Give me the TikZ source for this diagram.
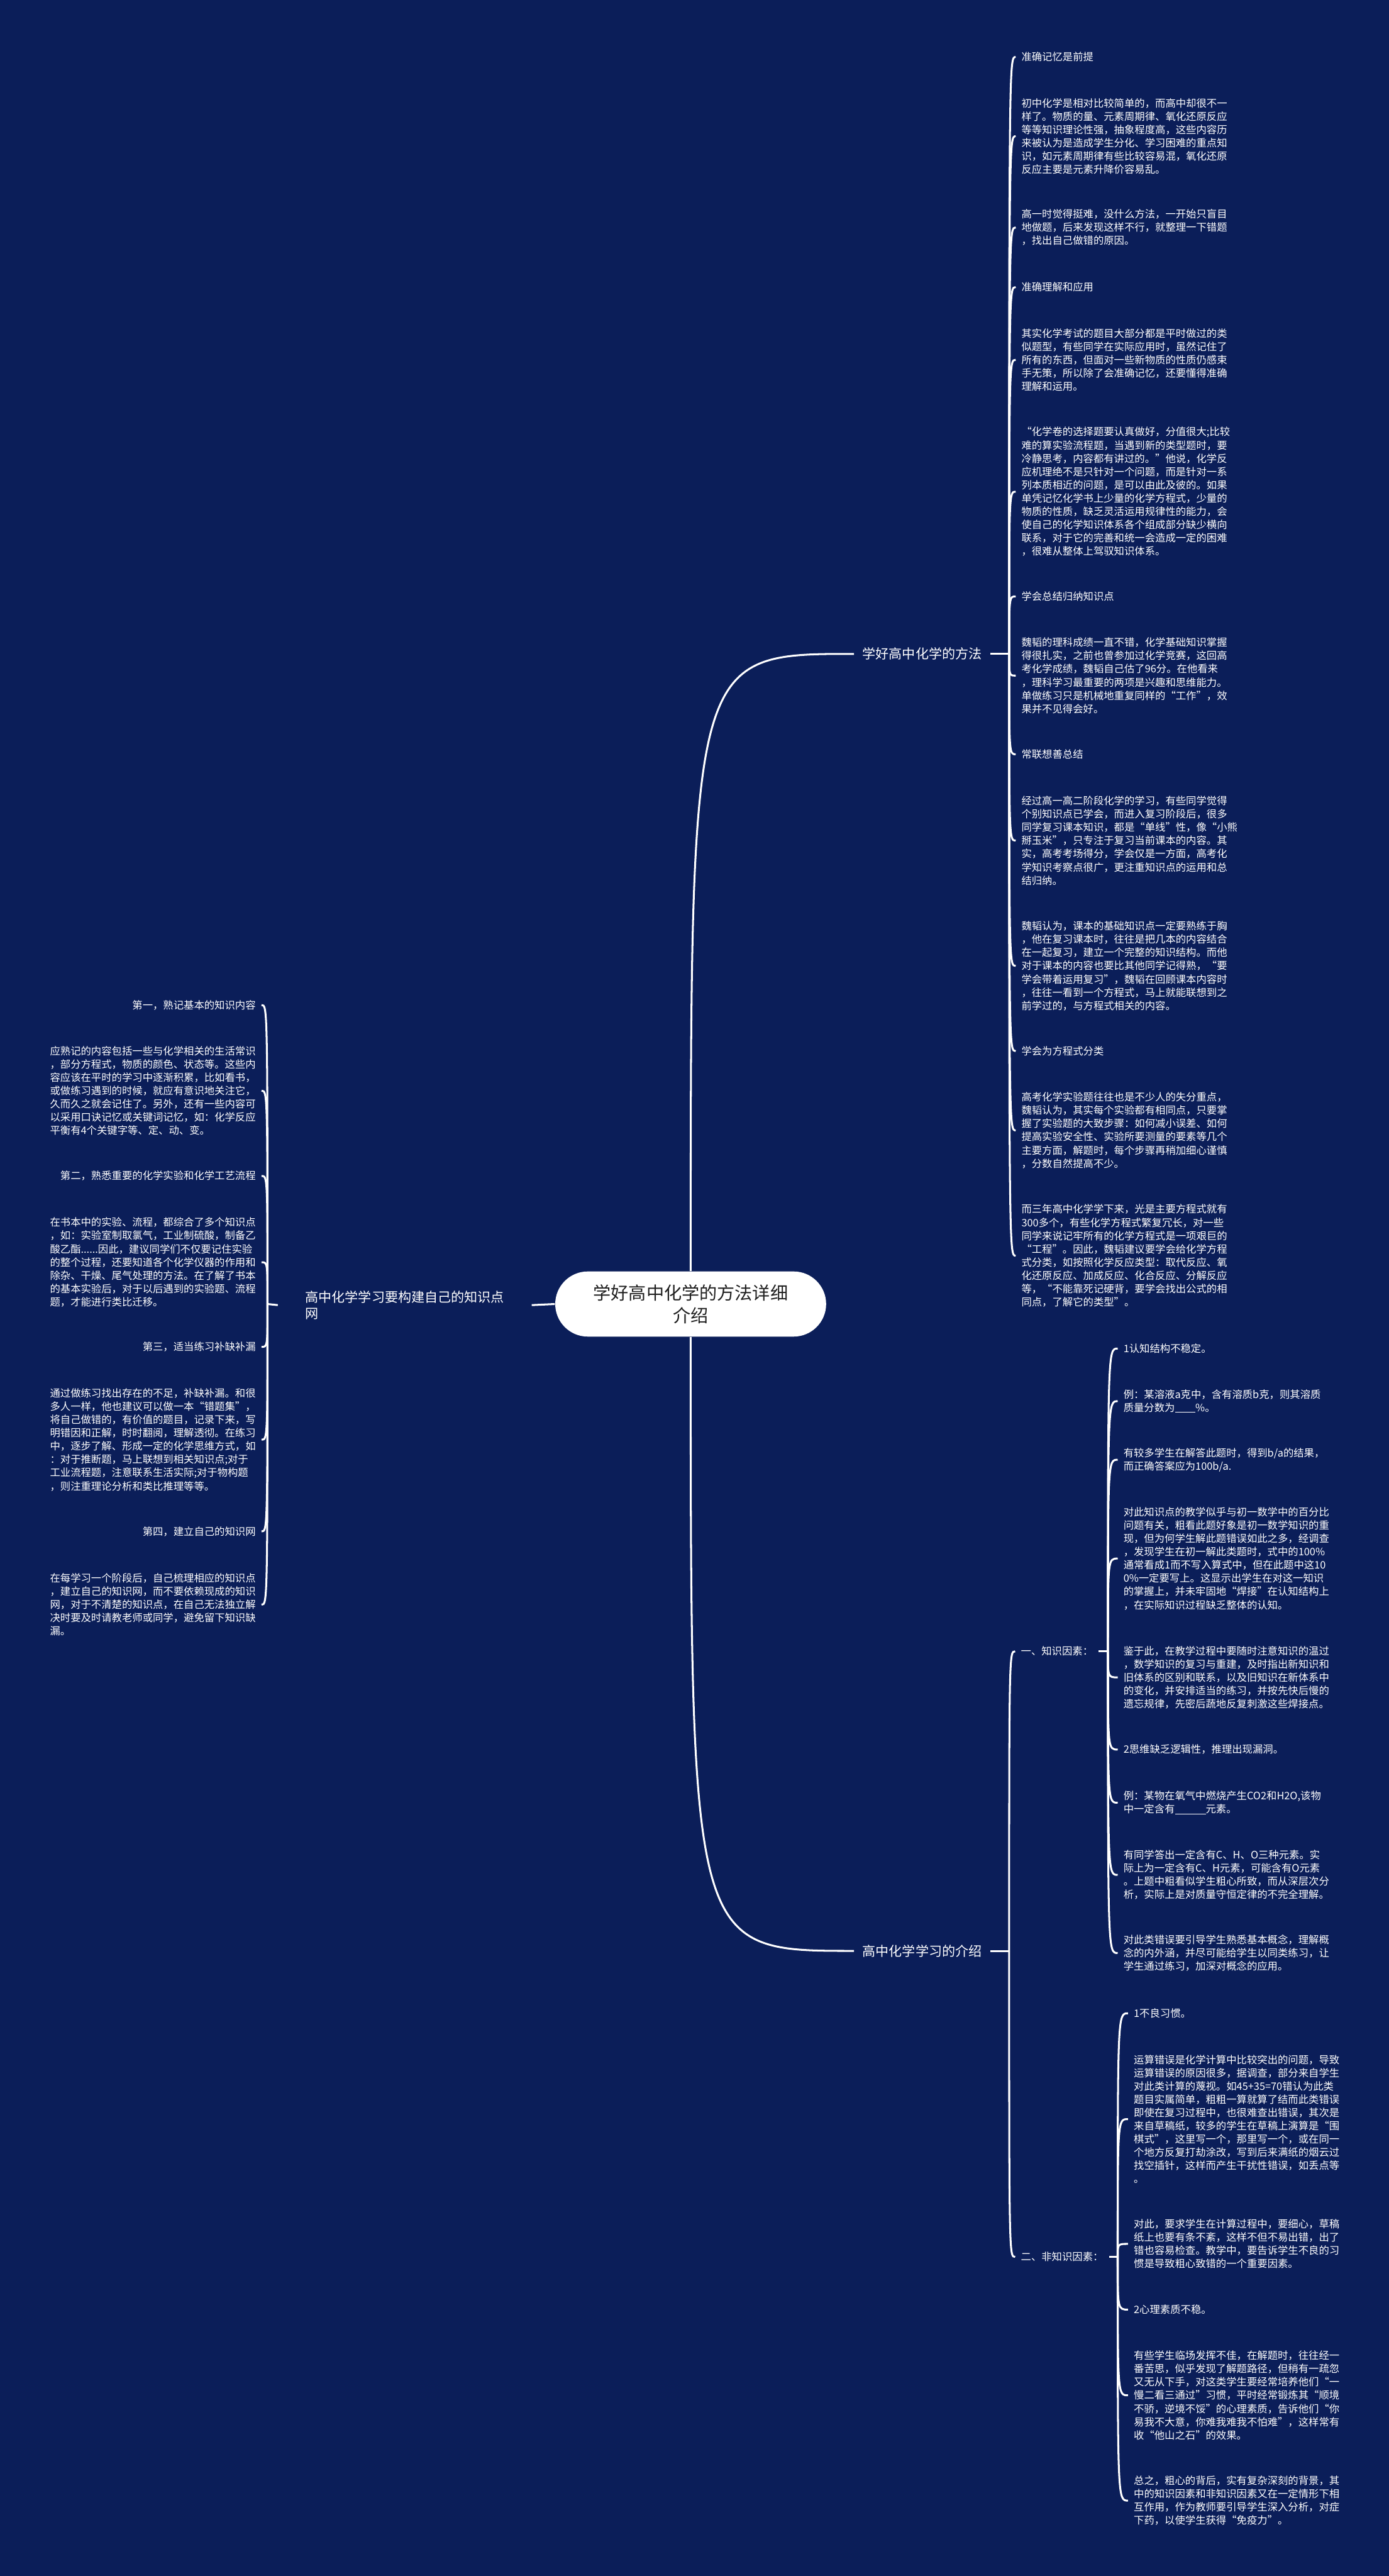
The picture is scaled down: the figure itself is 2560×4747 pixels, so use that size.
\documentclass[tikz,border=0pt]{standalone}
\usepackage{fontspec}
\setmainfont{Noto Sans CJK SC}
\definecolor{bgblue}{RGB}{11,30,89}
\newcommand{\blank}[1]{\rule[-0.12em]{#1}{0.06em}}
\begin{document}
\begin{tikzpicture}[x=0.01cm,y=-0.01cm,
    every node/.style={text=white,inner ysep=0pt},
    leaf/.style={align=left,inner xsep=0.1cm,font=\fontsize{5.39pt}{6.95pt}\selectfont},
    rleaf/.style={leaf,anchor=west},
    lleaf/.style={leaf,anchor=east},
    branch/.style={anchor=west,inner xsep=0.15cm,font=\fontsize{6.95pt}{8.5pt}\selectfont},
    hub/.style={fill=white,text=black!88,rounded corners=0.6cm,minimum width=4.99cm,
      minimum height=1.2cm,align=center,font=\fontsize{9.27pt}{11.9pt}\selectfont},
    link/.style={draw=white,line width=1pt}]
  \fill[bgblue] (0,0) rectangle (2560,4747);
  \useasboundingbox (0,0) rectangle (2560,4747);

  \node[hub] (hub) at (1273,2403) {学好高中化学的方法详细\\介绍};
  \node[branch] (ma) at (1574,1205) {学好高中化学的方法};
  \node[branch] (mb) at (1574,3595) {高中化学学习的介绍};
  \node[branch,align=left,inner xsep=0.5cm] (lmain) at (512,2405) {高中化学学习要构建自己的知识点\\网};

  \coordinate (ra) at (1860,1205);
  \coordinate (rb) at (1860,3595);
  \coordinate (rk) at (2042,3043);
  \coordinate (rn) at (2060,4159);
  \coordinate (rl) at (493,2403);

  \node[rleaf] (a1) at (1872,105) {准确记忆是前提};
  \node[rleaf] (a2) at (1872,251) {初中化学是相对比较简单的，而高中却很不一\\样了。物质的量、元素周期律、氧化还原反应\\等等知识理论性强，抽象程度高，这些内容历\\来被认为是造成学生分化、学习困难的重点知\\识，如元素周期律有些比较容易混，氧化还原\\反应主要是元素升降价容易乱。};
  \node[rleaf] (a3) at (1872,419) {高一时觉得挺难，没什么方法，一开始只盲目\\地做题，后来发现这样不行，就整理一下错题\\，找出自己做错的原因。};
  \node[rleaf] (a4) at (1872,529) {准确理解和应用};
  \node[rleaf] (a5) at (1872,663) {其实化学考试的题目大部分都是平时做过的类\\似题型，有些同学在实际应用时，虽然记住了\\所有的东西，但面对一些新物质的性质仍感束\\手无策，所以除了会准确记忆，还要懂得准确\\理解和运用。};
  \node[rleaf] (a6) at (1872,906) {“化学卷的选择题要认真做好，分值很大;比较\\难的算实验流程题，当遇到新的类型题时，要\\冷静思考，内容都有讲过的。”他说，化学反\\应机理绝不是只针对一个问题，而是针对一系\\列本质相近的问题，是可以由此及彼的。如果\\单凭记忆化学书上少量的化学方程式，少量的\\物质的性质，缺乏灵活运用规律性的能力，会\\使自己的化学知识体系各个组成部分缺少横向\\联系，对于它的完善和统一会造成一定的困难\\，很难从整体上驾驭知识体系。};
  \node[rleaf] (a7) at (1872,1099) {学会总结归纳知识点};
  \node[rleaf] (a8) at (1872,1245) {魏韬的理科成绩一直不错，化学基础知识掌握\\得很扎实，之前也曾参加过化学竞赛，这回高\\考化学成绩，魏韬自己估了96分。在他看来\\，理科学习最重要的两项是兴趣和思维能力。\\单做练习只是机械地重复同样的“工作”，效\\果并不见得会好。};
  \node[rleaf] (a9) at (1872,1390) {常联想善总结};
  \node[rleaf] (a10) at (1872,1549) {经过高一高二阶段化学的学习，有些同学觉得\\个别知识点已学会，而进入复习阶段后，很多\\同学复习课本知识，都是“单线”性，像“小熊\\掰玉米”，只专注于复习当前课本的内容。其\\实，高考考场得分，学会仅是一方面，高考化\\学知识考察点很广，更注重知识点的运用和总\\结归纳。};
  \node[rleaf] (a11) at (1872,1780) {魏韬认为，课本的基础知识点一定要熟练于胸\\，他在复习课本时，往往是把几本的内容结合\\在一起复习，建立一个完整的知识结构。而他\\对于课本的内容也要比其他同学记得熟，“要\\学会带着运用复习”，魏韬在回顾课本内容时\\，往往一看到一个方程式，马上就能联想到之\\前学过的，与方程式相关的内容。};
  \node[rleaf] (a12) at (1872,1937) {学会为方程式分类};
  \node[rleaf] (a13) at (1872,2083) {高考化学实验题往往也是不少人的失分重点，\\魏韬认为，其实每个实验都有相同点，只要掌\\握了实验题的大致步骤：如何减小误差、如何\\提高实验安全性、实验所要测量的要素等几个\\主要方面，解题时，每个步骤再稍加细心谨慎\\，分数自然提高不少。};
  \node[rleaf] (a14) at (1872,2314) {而三年高中化学学下来，光是主要方程式就有\\300多个，有些化学方程式繁复冗长，对一些\\同学来说记牢所有的化学方程式是一项艰巨的\\“工程”。因此，魏韬建议要学会给化学方程\\式分类，如按照化学反应类型：取代反应、氧\\化还原反应、加成反应、化合反应、分解反应\\等，“不能靠死记硬背，要学会找出公式的相\\同点，了解它的类型”。};

  \node[rleaf] (kf) at (1871,3043) {一、知识因素：};
  \node[rleaf] (nf) at (1871,4159) {二、非知识因素：};

  \node[rleaf] (k1) at (2060,2485) {1认知结构不稳定。};
  \node[rleaf] (k2) at (2060,2582) {例：某溶液a克中，含有溶质b克，则其溶质\\质量分数为\blank{2em}\%。};
  \node[rleaf] (k3) at (2060,2690) {有较多学生在解答此题时，得到b/a的结果，\\而正确答案应为100b/a.};
  \node[rleaf] (k4) at (2060,2872) {对此知识点的教学似乎与初一数学中的百分比\\问题有关，粗看此题好象是初一数学知识的重\\现，但为何学生解此题错误如此之多，经调查\\，发现学生在初一解此类题时，式中的100\%\\通常看成1而不写入算式中，但在此题中这10\\0\%一定要写上。这显示出学生在对这一知识\\的掌握上，并未牢固地“焊接”在认知结构上\\，在实际知识过程缺乏整体的认知。};
  \node[rleaf] (k5) at (2060,3091) {鉴于此，在教学过程中要随时注意知识的温过\\，数学知识的复习与重建，及时指出新知识和\\旧体系的区别和联系，以及旧知识在新体系中\\的变化，并安排适当的练习，并按先快后慢的\\遗忘规律，先密后蔬地反复刺激这些焊接点。};
  \node[rleaf] (k6) at (2060,3224) {2思维缺乏逻辑性，推理出现漏洞。};
  \node[rleaf] (k7) at (2060,3322) {例：某物在氧气中燃烧产生CO2和H2O,该物\\中一定含有\blank{3em}元素。};
  \node[rleaf] (k8) at (2060,3455) {有同学答出一定含有C、H、O三种元素。实\\际上为一定含有C、H元素，可能含有O元素\\。上题中粗看似学生粗心所致，而从深层次分\\析，实际上是对质量守恒定律的不完全理解。};
  \node[rleaf] (k9) at (2060,3599) {对此类错误要引导学生熟悉基本概念，理解概\\念的内外涵，并尽可能给学生以同类练习，让\\学生通过练习，加深对概念的应用。};

  \node[rleaf] (n1) at (2079,3710) {1不良习惯。};
  \node[rleaf] (n2) at (2079,3905) {运算错误是化学计算中比较突出的问题，导致\\运算错误的原因很多，据调查，部分来自学生\\对此类计算的蔑视。如45+35=70错认为此类\\题目实属简单，粗粗一算就算了结而此类错误\\即使在复习过程中，也很难查出错误，其次是\\来自草稿纸，较多的学生在草稿上演算是“围\\棋式”，这里写一个，那里写一个，或在同一\\个地方反复打劫涂改，写到后来满纸的烟云过\\找空插针，这样而产生干扰性错误，如丢点等\\。};
  \node[rleaf] (n3) at (2079,4135) {对此，要求学生在计算过程中，要细心，草稿\\纸上也要有条不紊，这样不但不易出错，出了\\错也容易检查。教学中，要告诉学生不良的习\\惯是导致粗心致错的一个重要因素。};
  \node[rleaf] (n4) at (2079,4256) {2心理素质不稳。};
  \node[rleaf] (n5) at (2079,4414) {有些学生临场发挥不佳，在解题时，往往经一\\番苦思，似乎发现了解题路径，但稍有一疏忽\\又无从下手，对这类学生要经常培养他们“一\\慢二看三通过”习惯，平时经常锻炼其“顺境\\不骄，逆境不馁”的心理素质，告诉他们“你\\易我不大意，你难我难我不怕难”，这样常有\\收“他山之石”的效果。};
  \node[rleaf] (n6) at (2079,4608) {总之，粗心的背后，实有复杂深刻的背景，其\\中的知识因素和非知识因素又在一定情形下相\\互作用，作为教师要引导学生深入分析，对症\\下药，以使学生获得“免疫力”。};

  \node[lleaf] (l1) at (482,1852) {第一，熟记基本的知识内容};
  \node[lleaf] (l2) at (482,2010) {应熟记的内容包括一些与化学相关的生活常识\\，部分方程式，物质的颜色、状态等。这些内\\容应该在平时的学习中逐渐积累，比如看书，\\或做练习遇到的时候，就应有意识地关注它，\\久而久之就会记住了。另外，还有一些内容可\\以采用口诀记忆或关键词记忆，如：化学反应\\平衡有4个关键字等、定、动、变。};
  \node[lleaf] (l3) at (482,2167) {第二，熟悉重要的化学实验和化学工艺流程};
  \node[lleaf] (l4) at (482,2326) {在书本中的实验、流程，都综合了多个知识点\\，如：实验室制取氯气，工业制硫酸，制备乙\\酸乙酯......因此，建议同学们不仅要记住实验\\的整个过程，还要知道各个化学仪器的作用和\\除杂、干燥、尾气处理的方法。在了解了书本\\的基本实验后，对于以后遇到的实验题、流程\\题，才能进行类比迁移。};
  \node[lleaf] (l5) at (482,2482) {第三，适当练习补缺补漏};
  \node[lleaf] (l6) at (482,2653) {通过做练习找出存在的不足，补缺补漏。和很\\多人一样，他也建议可以做一本“错题集”，\\将自己做错的，有价值的题目，记录下来，写\\明错因和正解，时时翻阅，理解透彻。在练习\\中，逐步了解、形成一定的化学思维方式，如\\：对于推断题，马上联想到相关知识点;对于\\工业流程题，注意联系生活实际;对于物构题\\，则注重理论分析和类比推理等等。};
  \node[lleaf] (l7) at (482,2822) {第四，建立自己的知识网};
  \node[lleaf] (l8) at (482,2957) {在每学习一个阶段后，自己梳理相应的知识点\\，建立自己的知识网，而不要依赖现成的知识\\网，对于不清楚的知识点，在自己无法独立解\\决时要及时请教老师或同学，避免留下知识缺\\漏。};

  \begin{scope}[link]
    \draw (hub.north) .. controls (hub.north |- ma.west) .. (ma.west);
    \draw (hub.south) .. controls (hub.south |- mb.west) .. (mb.west);
    \draw (hub.west) -- (lmain.east);
    \draw (ma.east) -- (ra);
    \draw (mb.east) -- (rb);
    \draw (kf.east) -- (rk);
    \draw (nf.east) -- (rn);
    \draw (lmain.west) -- (rl);
    \draw (ra) .. controls (ra |- a1.west) .. (a1.west);
    \draw (ra) .. controls (ra |- a2.west) .. (a2.west);
    \draw (ra) .. controls (ra |- a3.west) .. (a3.west);
    \draw (ra) .. controls (ra |- a4.west) .. (a4.west);
    \draw (ra) .. controls (ra |- a5.west) .. (a5.west);
    \draw (ra) .. controls (ra |- a6.west) .. (a6.west);
    \draw (ra) .. controls (ra |- a7.west) .. (a7.west);
    \draw (ra) .. controls (ra |- a8.west) .. (a8.west);
    \draw (ra) .. controls (ra |- a9.west) .. (a9.west);
    \draw (ra) .. controls (ra |- a10.west) .. (a10.west);
    \draw (ra) .. controls (ra |- a11.west) .. (a11.west);
    \draw (ra) .. controls (ra |- a12.west) .. (a12.west);
    \draw (ra) .. controls (ra |- a13.west) .. (a13.west);
    \draw (ra) .. controls (ra |- a14.west) .. (a14.west);
    \draw (rb) .. controls (rb |- kf.west) .. (kf.west);
    \draw (rb) .. controls (rb |- nf.west) .. (nf.west);
    \draw (rk) .. controls (rk |- k1.west) .. (k1.west);
    \draw (rk) .. controls (rk |- k2.west) .. (k2.west);
    \draw (rk) .. controls (rk |- k3.west) .. (k3.west);
    \draw (rk) .. controls (rk |- k4.west) .. (k4.west);
    \draw (rk) .. controls (rk |- k5.west) .. (k5.west);
    \draw (rk) .. controls (rk |- k6.west) .. (k6.west);
    \draw (rk) .. controls (rk |- k7.west) .. (k7.west);
    \draw (rk) .. controls (rk |- k8.west) .. (k8.west);
    \draw (rk) .. controls (rk |- k9.west) .. (k9.west);
    \draw (rn) .. controls (rn |- n1.west) .. (n1.west);
    \draw (rn) .. controls (rn |- n2.west) .. (n2.west);
    \draw (rn) .. controls (rn |- n3.west) .. (n3.west);
    \draw (rn) .. controls (rn |- n4.west) .. (n4.west);
    \draw (rn) .. controls (rn |- n5.west) .. (n5.west);
    \draw (rn) .. controls (rn |- n6.west) .. (n6.west);
    \draw (rl) .. controls (rl |- l1.east) .. (l1.east);
    \draw (rl) .. controls (rl |- l2.east) .. (l2.east);
    \draw (rl) .. controls (rl |- l3.east) .. (l3.east);
    \draw (rl) .. controls (rl |- l4.east) .. (l4.east);
    \draw (rl) .. controls (rl |- l5.east) .. (l5.east);
    \draw (rl) .. controls (rl |- l6.east) .. (l6.east);
    \draw (rl) .. controls (rl |- l7.east) .. (l7.east);
    \draw (rl) .. controls (rl |- l8.east) .. (l8.east);
  \end{scope}
\end{tikzpicture}
\end{document}
